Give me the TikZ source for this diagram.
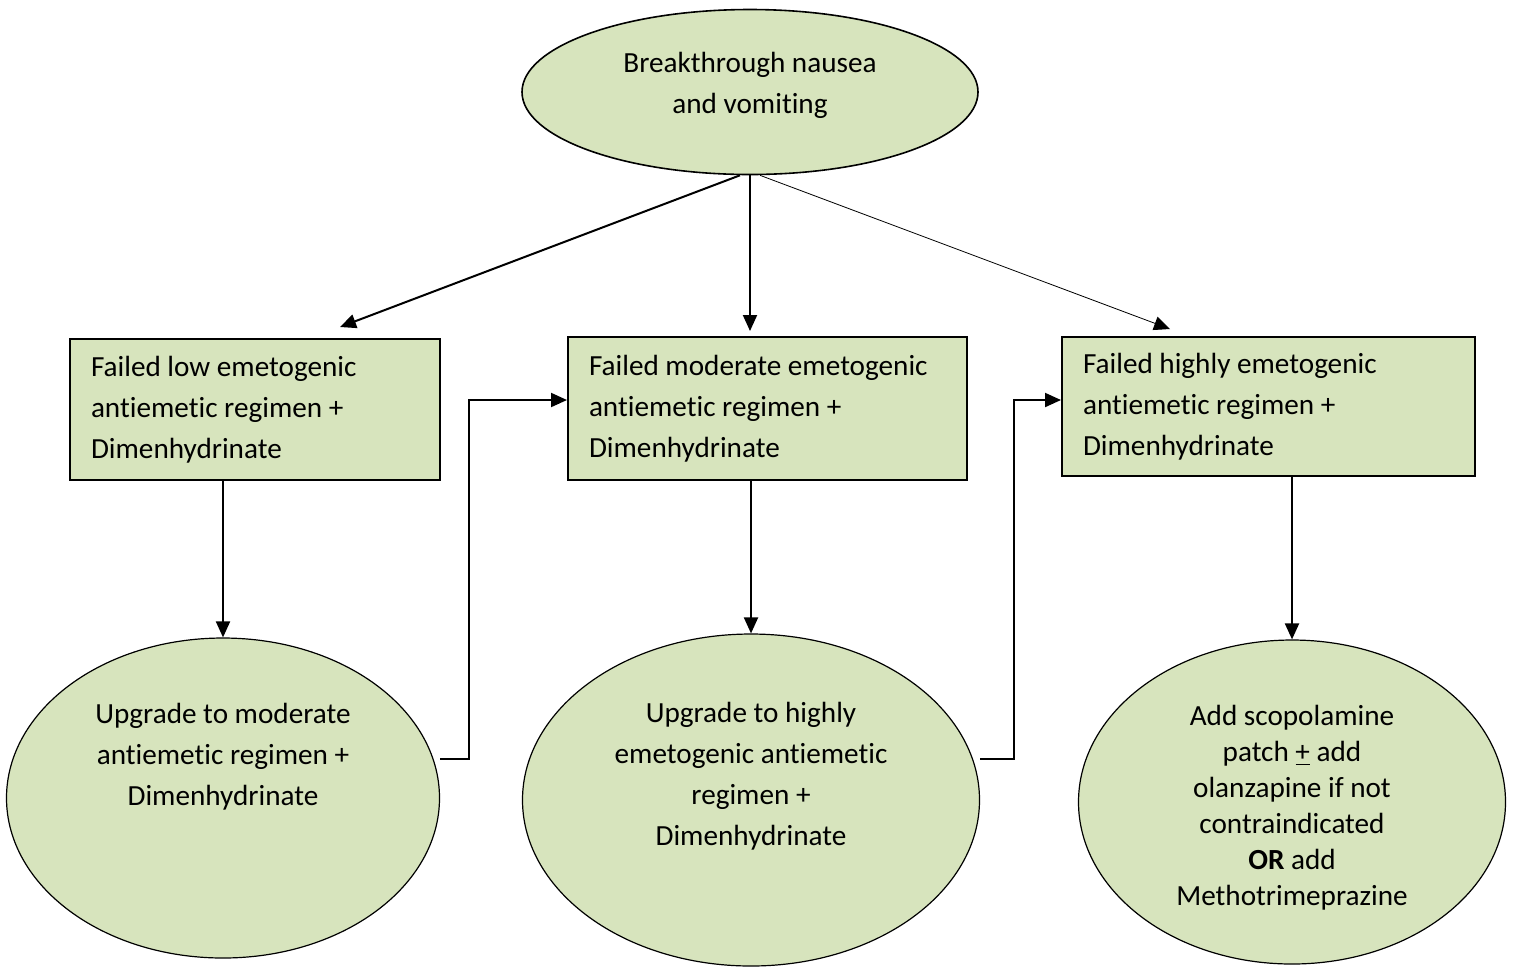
\documentclass[tikz,border=0pt]{standalone}
\usepackage{fontspec}
\setmainfont{Carlito}[Ligatures=NoCommon]
\usepackage{tikz}
\usetikzlibrary{shapes.geometric, arrows.meta}
\definecolor{leaf}{HTML}{D7E4BD}

\begin{document}
\begin{tikzpicture}[
        x=0.5pt, y=-0.5pt,
        oval/.style={ellipse, draw=black, fill=leaf, line width=0.6pt, inner sep=0pt},
        box/.style={rectangle, draw=black, fill=leaf, line width=1pt, inner xsep=10.5pt, inner ysep=0pt, align=flush left, font=\fontsize{14.6}{20.5}\selectfont},
        txt/.style={align=center, font=\fontsize{14.6}{20.5}\selectfont},
        arrow/.style={-{Triangle[length=8pt, width=7pt]}, line width=1pt},
        thinarrow/.style={-{Triangle[length=8pt, width=7pt]}, line width=0.4pt}
    ]
        \useasboundingbox (0,0) rectangle (1513,966);

        % START
        \node[oval, line width=0.8pt, minimum width=228pt, minimum height=82.5pt] (start) at (750,92) {};
        \node[txt] (starttxt) at (750,85) {Breakthrough nausea \\ and vomiting};

        % FAILED REGIMENS
        \node[box, text width=164pt, minimum height=70.5pt] (low) at (255,409.5) {Failed low emetogenic \\ antiemetic regimen + \\ Dimenhydrinate};
        \node[box, text width=178.5pt, minimum height=71.5pt] (moderate) at (767.5,408.5) {Failed moderate emetogenic \\ antiemetic regimen + \\ Dimenhydrinate};
        \node[box, text width=185.5pt, minimum height=69.5pt] (high) at (1268.5,406.5) {Failed highly emetogenic \\ antiemetic regimen + \\ Dimenhydrinate};

        % NEXT STEPS
        \node[oval, minimum width=216.5pt, minimum height=160pt] (uplow) at (223,798) {};
        \node[txt] (uplowtxt) at (223,757) {Upgrade to moderate \\ antiemetic regimen + \\ Dimenhydrinate};
        \node[oval, minimum width=228.5pt, minimum height=166pt] (upmod) at (751,800) {};
        \node[txt] (upmodtxt) at (751,776) {Upgrade to highly \\ emetogenic antiemetic \\ regimen + \\ Dimenhydrinate};
        \node[oval, minimum width=213.5pt, minimum height=162pt] (addon) at (1292,802) {};
        \node[txt, font=\fontsize{14.6}{18}\selectfont] (addontxt) at (1292,808) {Add scopolamine \\ patch \underline{+} add \\ olanzapine if not \\ contraindicated \\ \textbf{OR} add \\ Methotrimeprazine};

        % ARROWS
        \draw[arrow] ([xshift=-5pt]start.south) -- ([xshift=42.5pt, yshift=5.5pt]low.north);
        \draw[arrow] (start.south) -- ([xshift=-8.75pt, yshift=2.5pt]moderate.north);
        \draw[thinarrow] ([xshift=5pt]start.south) -- ([xshift=-49.25pt, yshift=3.5pt]high.north);
        \draw[arrow] (low.south -| uplow.north) -- (uplow.north);
        \draw[arrow] (moderate.south -| upmod.north) -- (upmod.north);
        \draw[arrow] (high.south -| addon.north) -- (addon.north);
        \draw[arrow] ([yshift=19.5pt]uplow.east) -- ++(29,0) |- ([yshift=4.25pt]moderate.west);
        \draw[arrow] ([yshift=20.5pt]upmod.east) -- ++(34,0) |- ([yshift=3.25pt]high.west);
    \end{tikzpicture}
\end{document}
